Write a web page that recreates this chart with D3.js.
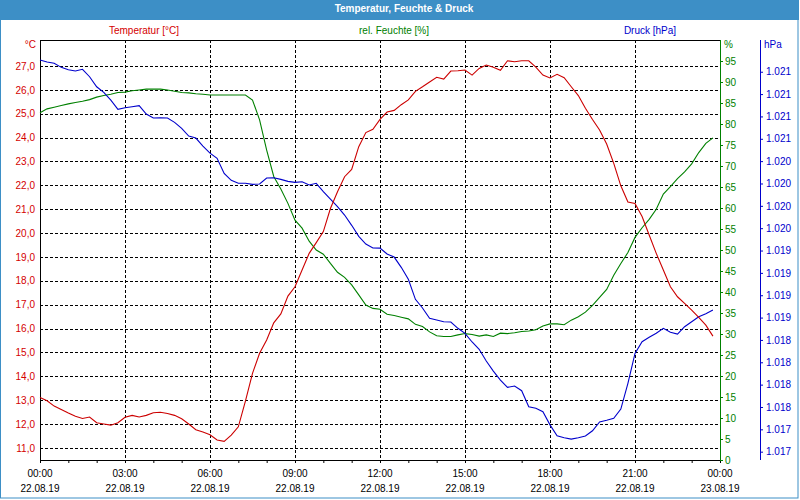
<!DOCTYPE html>
<html><head><meta charset="utf-8">
<script src="https://cdn.jsdelivr.net/npm/d3@7"></script>
<style>
html,body{margin:0;padding:0;background:#fff;}
svg{display:block;font-family:"Liberation Sans",Arial,sans-serif;}
</style></head>
<body>
<svg id="chart" width="800" height="500"></svg>
<script>
// ---- data (15-minute readings, 22.08.19 00:00 .. 23:45) ----
const startTime = new Date(2019, 7, 22, 0, 0);
const endTime = new Date(2019, 7, 23, 0, 0);
const stepMinutes = 15;

const temperature = [
  13.11, 12.97, 12.75, 12.61, 12.46, 12.32, 12.23, 12.29, 12.05, 12.00, 11.95, 12.05, 12.28, 12.36, 12.29, 12.36, 12.47, 12.49, 12.44, 12.36, 12.22, 12.00, 11.76, 11.66, 11.55,
  11.33, 11.27, 11.53, 11.88, 12.96, 14.12, 14.96, 15.52, 16.24, 16.61, 17.36, 17.75, 18.45, 19.15, 19.60, 20.06, 21.03, 21.73, 22.36, 22.67, 23.62, 24.21, 24.35, 24.76,
  25.07, 25.14, 25.38, 25.58, 25.94, 26.13, 26.33, 26.53, 26.45, 26.79, 26.80, 26.83, 26.62, 26.90, 27.04, 26.95, 26.82, 27.22, 27.18, 27.22, 27.22, 26.95, 26.62, 26.50,
  26.65, 26.51, 26.13, 25.76, 25.23, 24.76, 24.32, 23.73, 22.92, 21.98, 21.30, 21.24, 20.69, 19.92, 19.15, 18.45, 17.75, 17.33, 17.05, 16.77, 16.47, 16.14, 15.68
];
const humidity = [
  82.7, 83.6, 84.0, 84.4, 84.8, 85.1, 85.4, 85.8, 86.4, 86.8, 87.1, 87.5, 87.6, 87.9, 88.1, 88.3, 88.3, 88.3, 88.1, 87.8, 87.5, 87.4, 87.2, 87.1, 86.9,
  86.9, 86.9, 86.9, 86.9, 86.9, 85.7, 81.0, 73.8, 67.5, 64.5, 61.1, 57.1, 55.2, 52.1, 50.0, 49.0, 46.8, 44.7, 43.5, 41.7, 39.3, 36.9, 36.1, 35.9,
  34.7, 34.4, 34.0, 33.6, 32.3, 31.8, 30.5, 29.6, 29.4, 29.4, 29.8, 30.1, 29.9, 29.5, 29.8, 29.4, 30.2, 30.1, 30.3, 30.6, 30.7, 31.0, 31.9, 32.4,
  32.4, 32.2, 33.3, 34.1, 35.2, 36.8, 38.7, 40.6, 44.0, 46.8, 49.4, 53.0, 55.3, 57.3, 59.7, 63.3, 65.1, 67.0, 68.6, 70.5, 73.2, 75.4, 76.7
];
const pressure = [
  1021.381, 1021.358, 1021.344, 1021.299, 1021.272, 1021.258, 1021.277, 1021.194, 1021.082, 1021.020, 1020.933, 1020.829, 1020.847, 1020.859, 1020.870, 1020.777, 1020.732, 1020.735, 1020.732, 1020.684, 1020.617, 1020.531, 1020.508, 1020.419, 1020.340,
  1020.281, 1020.113, 1020.035, 1020.002, 1020.002, 1019.990, 1019.994, 1020.061, 1020.064, 1020.046, 1020.024, 1020.013, 1020.020, 1019.983, 1020.002, 1019.908, 1019.826, 1019.740, 1019.647, 1019.532, 1019.409, 1019.323, 1019.278, 1019.277,
  1019.211, 1019.177, 1019.062, 1018.928, 1018.704, 1018.607, 1018.492, 1018.473, 1018.454, 1018.450, 1018.380, 1018.324, 1018.227, 1018.145, 1018.014, 1017.902, 1017.801, 1017.720, 1017.734, 1017.682, 1017.503, 1017.485, 1017.447, 1017.300,
  1017.178, 1017.156, 1017.141, 1017.156, 1017.175, 1017.234, 1017.332, 1017.351, 1017.373, 1017.477, 1017.765, 1018.100, 1018.230, 1018.279, 1018.324, 1018.380, 1018.335, 1018.316, 1018.398, 1018.454, 1018.510, 1018.543, 1018.584
];
const times = temperature.map((_, i) => new Date(startTime.getTime() + i * stepMinutes * 60000));

const tempTicks = [11, 12, 13, 14, 15, 16, 17, 18, 19, 20, 21, 22, 23, 24, 25, 26, 27];
const humTicks = [0, 5, 10, 15, 20, 25, 30, 35, 40, 45, 50, 55, 60, 65, 70, 75, 80, 85, 90, 95];
const pressTicks = [1017.0, 1017.25, 1017.5, 1017.75, 1018.0, 1018.25, 1018.5, 1018.75, 1019.0, 1019.25, 1019.5, 1019.75, 1020.0, 1020.25, 1020.5, 1020.75, 1021.0, 1021.25];

const chartTitle = "Temperatur, Feuchte & Druck";
const seriesNames = ["Temperatur [°C]", "rel. Feuchte [%]", "Druck [hPa]"];
const unitNames = ["°C", "%", "hPa"];

// ---- layout ----
const W = 800, H = 500;
const L = 40, R = 720, T = 40, B = 460;
const cTemp = "#cc0000", cHum = "#008000", cPress = "#0000cc";
const cTempText = "#d40000";

const de = d3.formatLocale({decimal: ",", thousands: ".", grouping: [3], currency: ["", "€"]});
const fTemp = de.format(".1f");
const fPress = v => de.format(",.0f")(Math.round(v));
const fTime = d3.timeFormat("%H:%M");
const fDate = d3.timeFormat("%d.%m.%y");

const svg = d3.select("#chart");

const x = d3.scaleTime().domain([startTime, endTime]).range([L, R]);
const yT = d3.scaleLinear().domain([10.49, 28.09]).range([B, T]);
const yH = d3.scaleLinear().domain([0, 100]).range([B, T]);
const yP = d3.scaleLinear().domain([1016.907, 1021.605]).range([B, T]);

// frame + title bar
svg.append("rect").attr("x", 0).attr("y", 0).attr("width", W).attr("height", H).attr("fill", "#fff");
svg.append("rect").attr("x", 0).attr("y", 0).attr("width", 799).attr("height", 20).attr("fill", "#3d8fc6");
svg.append("rect").attr("x", 0.5).attr("y", 0.5).attr("width", 797.5).attr("height", 497.5)
  .attr("fill", "none").attr("stroke", "#3d8fc6").attr("stroke-width", 1);
svg.append("text").attr("x", 404).attr("y", 12).attr("text-anchor", "middle")
  .attr("fill", "#fff").attr("font-weight", "bold").attr("font-size", "10px").text(chartTitle);

// series headings
const headX = [144, 394, 650];
const headC = [cTempText, cHum, cPress];
seriesNames.forEach((s, i) => {
  svg.append("text").attr("x", headX[i]).attr("y", 34).attr("text-anchor", "middle")
    .attr("fill", headC[i]).attr("font-size", "10px").text(s);
});

// grid
const grid = svg.append("g").attr("stroke", "#000").attr("stroke-dasharray", "3,2").attr("shape-rendering", "crispEdges");
grid.selectAll("line.h").data(tempTicks).join("line").attr("class", "h")
  .attr("x1", L).attr("x2", R).attr("y1", d => Math.round(yT(d)) + 0.5).attr("y2", d => Math.round(yT(d)) + 0.5);
const vTicks = x.ticks(d3.timeHour.every(3)).filter(d => +d > +startTime && +d < +endTime);
grid.selectAll("line.v").data(vTicks).join("line").attr("class", "v")
  .attr("x1", d => Math.round(x(d)) + 0.5).attr("x2", d => Math.round(x(d)) + 0.5).attr("y1", T).attr("y2", B);

// plot border
const border = svg.append("g").attr("shape-rendering", "crispEdges");
border.append("line").attr("x1", L).attr("x2", R).attr("y1", T + 0.5).attr("y2", T + 0.5).attr("stroke", "#000");
border.append("line").attr("x1", L + 0.5).attr("x2", L + 0.5).attr("y1", T).attr("y2", B).attr("stroke", "#000");

// x axis
const xAxis = d3.axisBottom(x).ticks(d3.timeHour.every(1)).tickSize(3).tickFormat("");
const gx = svg.append("g").attr("transform", `translate(0,${B})`).call(xAxis);
gx.select(".domain").attr("stroke", "#000");
gx.selectAll(".tick line").attr("stroke", "#000");
const labTicks = x.ticks(d3.timeHour.every(3));
const xl = svg.append("g").attr("font-size", "10px").attr("fill", "#000");
labTicks.forEach(d => {
  xl.append("text").attr("x", x(d)).attr("y", 477).attr("text-anchor", "middle").text(fTime(d));
  xl.append("text").attr("x", x(d)).attr("y", 492).attr("text-anchor", "middle").text(fDate(d));
});

// temperature axis (left)
const gT = svg.append("g").attr("transform", `translate(${L},0)`)
  .call(d3.axisLeft(yT).tickValues(tempTicks).tickSize(0).tickPadding(5).tickFormat(fTemp));
gT.select(".domain").remove();
gT.selectAll("text").attr("fill", cTempText).attr("font-size", "10px").attr("font-family", "Liberation Sans,Arial,sans-serif");
svg.append("text").attr("x", 36).attr("y", 48).attr("text-anchor", "end").attr("fill", cTempText).attr("font-size", "10px").text(unitNames[0]);

// humidity axis (right of plot)
const gH = svg.append("g").attr("transform", `translate(${R},0)`)
  .call(d3.axisRight(yH).tickValues(humTicks).tickSize(3).tickPadding(2).tickFormat(d3.format("d")));
gH.select(".domain").attr("stroke", cHum).attr("d", `M0.5,${T}V${B}`);
gH.selectAll(".tick line").attr("stroke", cHum);
gH.selectAll("text").attr("fill", cHum).attr("font-size", "10px").attr("font-family", "Liberation Sans,Arial,sans-serif");
svg.append("text").attr("x", 724).attr("y", 48).attr("fill", cHum).attr("font-size", "10px").text(unitNames[1]);

// pressure axis (far right)
const gP = svg.append("g").attr("transform", `translate(760,0)`)
  .call(d3.axisRight(yP).tickValues(pressTicks).tickSize(3).tickPadding(3).tickFormat(fPress));
gP.select(".domain").attr("stroke", cPress).attr("d", `M0.5,${T}V${B}`);
gP.selectAll(".tick line").attr("stroke", cPress);
gP.selectAll("text").attr("fill", cPress).attr("font-size", "10px").attr("font-family", "Liberation Sans,Arial,sans-serif");
svg.append("text").attr("x", 764).attr("y", 48).attr("fill", cPress).attr("font-size", "10px").text(unitNames[2]);

// lines
const plot = svg.append("g");
function drawLine(values, yScale, color) {
  const line = d3.line().x((d, i) => x(times[i])).y(d => yScale(d)).curve(d3.curveLinear);
  plot.append("path").datum(values).attr("d", line).attr("fill", "none")
    .attr("stroke", color).attr("stroke-width", 1.1);
}
drawLine(humidity, yH, cHum);
drawLine(pressure, yP, cPress);
drawLine(temperature, yT, cTemp);
</script>
</body></html>
